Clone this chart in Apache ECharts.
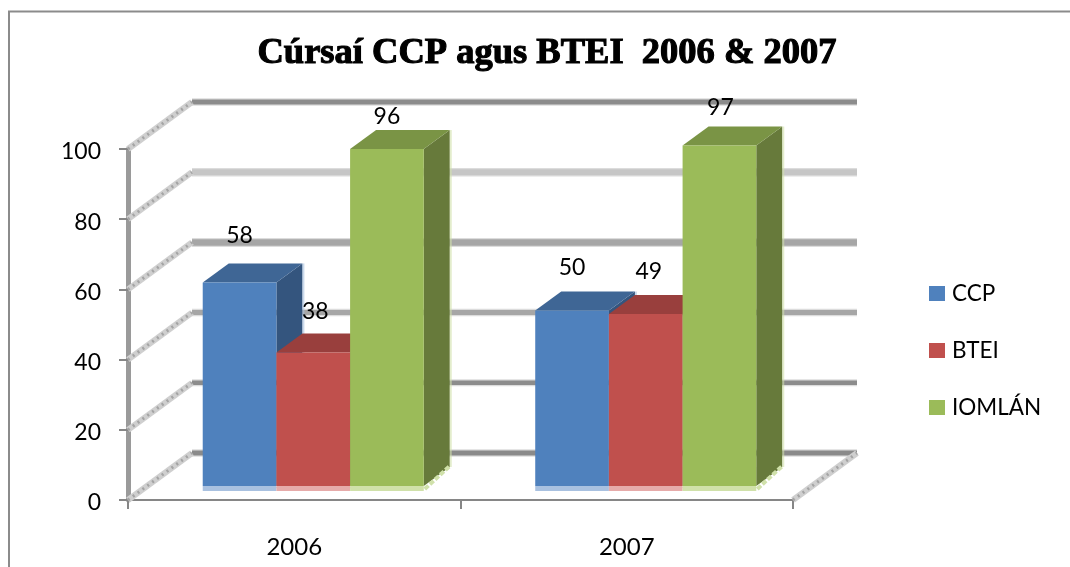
<!DOCTYPE html>
<html>
<head>
<meta charset="utf-8">
<style>html,body{margin:0;padding:0;background:#fff}#c{width:1070px;height:567px}</style>
<script src="https://cdn.jsdelivr.net/npm/echarts@6/dist/echarts.min.js"></script>
</head>
<body>
<div id="c"></div>
<script>
const titleText = 'Cúrsaí CCP agus BTEI  2006 & 2007';
const categories = ['2006', '2007'];
const seriesNames = ['CCP', 'BTEI', 'IOMLÁN'];
const ccpValues = [58, 50];
const bteiValues = [38, 49];
const iomlanValues = [96, 97];
const gridTicks = [0, 20, 40, 60, 80, 100];

// styling only
const frontColors = ['#4f81bd', '#c0504d', '#9bbb59'];
const topColors = ['#3f6695', '#993f3d', '#7a9445'];
const sideColors = ['#34557e', '#7f3533', '#677a3b'];
const paleColors = ['#a9c1e0', '#e6abaa', '#d0e1aa'];
const tickCore = { 0: '#8a8a8a', 20: '#8c8c8c', 40: '#a6a6a6', 60: '#a6a6a6', 80: '#c6c6c6', 100: '#8c8c8c' };
const tickWidth = { 0: 5, 20: 4.5, 40: 5, 60: 6.5, 80: 6, 100: 5 };
const labelLift = [[48, 44], [42, 43], [33, 39]];
const labelShift = [[0, 0], [2, 3], [0, 1]];
const FONT = 'Lato, "Open Sans", sans-serif';

// 3D projection, pixels
const WALL = [64, -47], PLANE = [19, -14], DEPTH = [26, -19];
const BAR_W = 0.2216;

function renderGrid(params, api) {
  const cs = params.coordSys;
  const tick = api.value(1);
  const y = api.coord([0, tick])[1];
  const x0 = cs.x, x1 = cs.x + cs.width;
  const pts = [[x0, y], [x0 + WALL[0], y + WALL[1]]];
  const back = [[x0 + WALL[0], y + WALL[1]], [x1 + WALL[0], y + WALL[1]]];
  const children = [
    { type: 'polyline', shape: { points: back }, style: { stroke: '#dcdcdc', lineWidth: tickWidth[tick] + 2.5, fill: null } },
    { type: 'polyline', shape: { points: back }, style: { stroke: tickCore[tick], lineWidth: tickWidth[tick], fill: null } },
    { type: 'polyline', shape: { points: pts }, style: { stroke: '#cfcfcf', lineWidth: 6, fill: null } },
    { type: 'polyline', shape: { points: pts }, style: { stroke: '#a4a4a4', lineWidth: 3, lineDash: [2, 4], fill: null } }
  ];
  if (tick === 0) {
    const pr = [[x1, y], [x1 + WALL[0], y + WALL[1]]];
    children.push(
      { type: 'polyline', shape: { points: pr }, style: { stroke: '#cfcfcf', lineWidth: 6, fill: null } },
      { type: 'polyline', shape: { points: pr }, style: { stroke: '#a4a4a4', lineWidth: 3, lineDash: [2, 4], fill: null } }
    );
  }
  return { type: 'group', children };
}

function makeRender(si) {
  return function (params, api) {
    const cat = api.value(0), val = api.value(1);
    const band = api.size([1, 0])[0];
    const w = band * BAR_W;
    const c = api.coord([cat, val]);
    const b = api.coord([cat, 0]);
    const x0 = c[0] - 1.5 * w + si * w + PLANE[0];
    const x1 = x0 + w;
    const yt = c[1] + PLANE[1];
    const yb = b[1] + PLANE[1];
    const dx = DEPTH[0], dy = DEPTH[1];
    const poly = (points, fill) => ({ type: 'polygon', shape: { points }, style: { fill } });
    return {
      type: 'group',
      children: [
        poly([[x1, yt], [x1 + dx, yt + dy], [x1 + dx, yb + dy], [x1, yb]], sideColors[si]),
        poly([[x0, yt], [x0 + dx, yt + dy], [x1 + dx, yt + dy], [x1, yt]], topColors[si]),
        { type: 'rect', shape: { x: x0, y: yt, width: w, height: yb - yt }, style: { fill: frontColors[si] } },
        { type: 'rect', shape: { x: x0, y: yb, width: w, height: 5 }, style: { fill: paleColors[si] } },
        { type: 'polyline', shape: { points: [[x1 + 1, yb + 3], [x1 + dx, yb + dy - 1]] },
          style: { stroke: paleColors[si], lineWidth: 4, lineDash: [5, 2], fill: null } },
        { type: 'line', shape: { x1: x1 + dx + 1, y1: yt + dy, x2: x1 + dx + 1, y2: yb + dy },
          style: { stroke: paleColors[si], lineWidth: 2, opacity: 0.6 } },
        { type: 'text', style: {
            text: String(val), x: (x0 + x1) / 2 + labelShift[si][cat], y: yt - labelLift[si][cat] + 1,
            fill: '#000', font: '23px ' + FONT, align: 'center', verticalAlign: 'middle' } }
      ]
    };
  };
}

const allValues = [ccpValues, bteiValues, iomlanValues];
const chart = echarts.init(document.getElementById('c'), null, { renderer: 'canvas' });
chart.setOption({
  animation: false,
  backgroundColor: '#fff',
  title: {
    text: titleText, left: 542, top: 30, textAlign: 'center',
    textStyle: { fontFamily: '"Liberation Serif", serif', fontWeight: 'bold', fontSize: 36.5, color: '#000',
      textBorderColor: '#000', textBorderWidth: 1.1 }
  },
  legend: {
    orient: 'vertical', left: 924, top: 277, itemWidth: 16, itemHeight: 15, itemGap: 34, icon: 'rect',
    data: seriesNames,
    textStyle: { fontFamily: FONT, fontSize: 22.5, color: '#000', padding: [0, 0, 0, 2], height: 23, lineHeight: 23 }
  },
  graphic: [{
    type: 'polyline', silent: true, z: 0,
    shape: { points: [[9, 567], [9, 11.5], [1070, 11.5]] },
    style: { stroke: '#8b8b8b', lineWidth: 2, fill: null }
  }],
  grid: { left: 128, right: 277, top: 149, bottom: 67 },
  xAxis: {
    type: 'category', data: categories, boundaryGap: true,
    axisLine: { show: true, lineStyle: { color: '#868686', width: 2 } },
    axisTick: { show: true, length: 9, alignWithLabel: false, lineStyle: { color: '#868686', width: 2 } },
    axisLabel: { fontFamily: FONT, fontSize: 24, color: '#000', margin: 35 },
    splitLine: { show: false }
  },
  yAxis: {
    type: 'value', min: 0, max: 100, interval: 20,
    axisLine: { show: true, lineStyle: { color: '#9a9a9a', width: 5 } },
    axisTick: { show: true, length: 9, lineStyle: { color: '#868686', width: 2 } },
    axisLabel: { fontFamily: FONT, fontSize: 23, color: '#000', margin: 27, verticalAlign: 'top', lineHeight: 6 },
    splitLine: { show: false }
  },
  series: [
    { type: 'custom', name: '_grid', coordinateSystem: 'cartesian2d', z: 1, silent: true,
      encode: { x: 0, y: 1 }, data: gridTicks.map(t => [0, t]), renderItem: renderGrid },
    ...seriesNames.map((name, si) => ({
      type: 'custom', name, coordinateSystem: 'cartesian2d', z: 3,
      itemStyle: { color: frontColors[si] },
      encode: { x: 0, y: 1 },
      data: categories.map((c, i) => [i, allValues[si][i]]),
      renderItem: makeRender(si)
    }))
  ]
});
</script>
</body>
</html>
